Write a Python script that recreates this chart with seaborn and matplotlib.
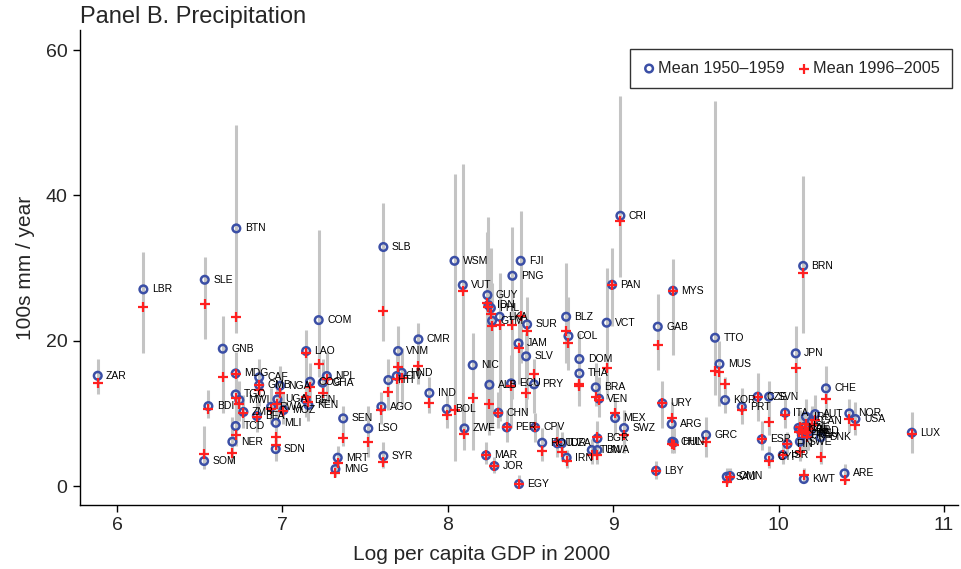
import matplotlib
matplotlib.use("Agg")
import matplotlib.pyplot as plt
import seaborn as sns
import pandas as pd

codes = ["ZAR","LBR","SLE","SOM","BDI","GNB","NER","BTN","MDG","TGO","TCD","MWI","ZMB","CAF","GMB","BFA",
         "RWA","UGA","MOZ","MLI","SDN","NGA","KEN","BEN","COM","LAO","NPL","GHA","COG","SEN","MRT","MNG",
         "LSO","SYR","AGO","SLB","HTI","CIV","HND","VNM","CMR","IND","BOL","WSM","VUT","ZWE","NIC","GUY",
         "IDN","PHL","GTM","LKA","FJI","PNG","SUR","JAM","SLV","ALB","ECU","PRY","CHN","MAR","JOR","EGY",
         "PER","CPV","BLZ","COL","DOM","THA","VCT","ROU","TUR","DZA","IRN","BRA","VEN","BGR","TUN","BWA",
         "MEX","SWZ","PAN","CRI","GAB","MYS","URY","ARG","CHL","HUN","LBY","GRC","TTO","MUS","KOR","PRT",
         "SAU","OMN","CZE","SVN","ESP","CYP","ISR","ITA","FIN","JPN","BRN","KWT","CHE","NOR","USA","ARE",
         "LUX","SWE","DNK","IRL","AUT","CAN","NZL","ISL","NLD","BEL","FRA","GBR","DEU"]
log_gdp = [5.883,6.159,6.530,6.526,6.552,6.639,6.697,6.721,6.717,6.717,6.717,6.739,6.764,6.859,6.859,6.845,
           6.931,6.969,7.006,6.960,6.959,6.985,7.157,7.140,7.219,7.143,7.268,7.243,7.167,7.367,7.334,7.320,
           7.519,7.610,7.598,7.610,7.640,7.691,7.721,7.699,7.822,7.888,7.993,8.040,8.090,8.100,8.150,8.239,
           8.245,8.260,8.267,8.313,8.440,8.390,8.479,8.427,8.473,8.251,8.382,8.521,8.305,8.231,8.281,8.430,
           8.356,8.527,8.715,8.729,8.795,8.795,8.960,8.570,8.662,8.689,8.718,8.894,8.914,8.904,8.870,8.904,
           9.011,9.065,8.993,9.043,9.269,9.361,9.297,9.353,9.357,9.365,9.259,9.561,9.615,9.642,9.676,9.777,
           9.686,9.706,9.873,9.942,9.898,9.942,10.025,10.039,10.053,10.103,10.148,10.152,10.286,10.427,10.464,10.398,
           10.805,10.128,10.254,10.165,10.220,10.200,10.120,10.160,10.190,10.170,10.140,10.130,10.180]
mean_1950s = [15.18,27.07,28.39,3.44,11.00,18.90,6.10,35.46,15.50,12.60,8.26,11.83,10.20,14.96,13.90,9.63,
              10.90,11.93,10.46,8.70,5.09,13.80,11.15,11.90,22.84,18.58,15.14,14.22,14.36,9.31,3.90,2.34,
              7.93,4.13,10.92,32.90,14.59,15.14,15.60,18.58,20.19,12.80,10.60,31.00,27.66,7.93,16.65,26.28,
              24.90,24.50,22.75,23.30,31.00,28.94,22.25,19.63,17.85,13.94,14.13,14.00,10.09,4.22,2.75,0.27,
              8.07,8.07,23.30,20.64,17.48,15.50,22.48,5.96,5.87,5.87,3.90,13.58,12.02,6.56,4.95,4.95,
              9.36,7.98,27.70,37.20,21.93,26.88,11.38,8.53,6.10,6.00,2.11,7.02,20.41,16.79,11.83,10.92,
              1.28,1.38,12.30,12.30,6.42,3.94,4.27,10.09,5.78,18.26,30.30,0.96,13.44,10.00,9.22,1.74,
              7.34,6.10,6.70,9.54,9.90,8.90,8.00,8.20,7.60,7.30,7.00,7.70,7.10]
mean_1990s = [14.22,24.63,25.09,4.40,10.55,15.04,4.58,23.26,15.40,12.10,7.00,11.30,10.10,13.90,13.20,9.50,
              10.60,11.30,10.30,6.80,5.60,12.76,11.50,12.20,16.80,18.26,14.77,12.85,13.60,6.65,3.11,1.74,
              6.10,3.35,10.46,24.10,13.00,14.80,14.90,16.40,16.50,11.47,9.77,10.46,26.88,7.10,12.07,25.20,
              24.70,23.70,22.06,22.20,23.40,22.15,21.38,18.95,12.75,11.28,13.80,15.37,10.09,4.22,2.75,0.27,
              8.07,8.07,21.33,19.63,14.00,13.80,16.28,4.82,6.10,4.72,3.48,12.29,11.90,6.79,4.27,4.27,
              10.09,7.00,27.70,36.50,19.40,26.88,11.38,9.31,5.74,5.70,2.11,6.10,15.87,15.73,14.00,10.46,
              0.60,1.30,12.20,8.85,6.42,3.48,4.27,9.77,5.78,16.28,29.30,1.51,11.97,9.17,8.39,0.78,
              7.16,4.72,4.04,8.50,9.10,8.40,7.40,7.70,7.90,6.80,7.30,8.10,7.50]
range_low = [12.7,18.3,20.2,2.3,9.4,10.0,3.2,21.0,12.5,9.5,5.5,9.0,8.0,12.0,11.0,7.5,
             8.5,9.5,8.5,6.0,3.5,10.5,9.0,9.5,15.0,13.0,11.5,11.0,11.0,5.5,2.0,1.2,
             4.0,2.5,8.5,20.0,10.5,11.0,11.0,14.0,14.0,10.0,8.0,3.5,8.0,5.0,5.0,8.0,
             8.0,10.0,8.0,9.0,17.0,12.0,12.0,14.0,10.0,7.0,8.0,10.0,8.0,3.0,1.8,0.0,
             6.0,6.0,17.0,16.0,12.0,11.0,12.0,3.5,4.0,3.5,2.5,11.0,9.5,4.0,3.0,3.0,
             7.0,4.5,22.0,28.8,16.0,18.0,8.0,6.0,4.5,4.5,1.0,4.0,12.5,11.0,10.0,8.5,
             0.3,0.5,9.0,7.0,5.0,2.5,3.0,8.0,4.5,13.0,21.0,0.5,10.0,7.5,7.0,0.3,
             4.5,3.5,3.0,6.0,7.0,6.0,5.5,5.0,5.5,5.0,5.0,6.0,5.0]
range_high = [17.5,32.2,31.5,8.2,13.2,23.4,9.5,49.7,18.5,16.0,10.5,14.5,12.5,17.5,16.5,11.5,
              13.5,14.5,13.0,10.5,7.5,16.5,14.0,15.0,35.3,21.5,18.5,17.5,17.0,11.0,5.5,3.5,
              11.0,6.0,13.0,39.0,17.5,18.5,19.0,22.0,22.5,15.0,12.5,42.9,44.3,11.0,21.0,34.9,
              37.1,32.8,28.0,29.3,37.8,35.6,26.0,24.0,21.0,17.0,18.0,17.5,13.0,6.0,4.0,1.5,
              10.5,10.0,30.7,26.0,21.0,19.0,30.0,8.0,8.5,7.5,5.0,17.0,15.0,9.0,6.5,6.5,
              12.0,10.5,32.8,53.7,26.5,31.2,14.5,11.5,8.0,8.0,3.5,9.5,53.0,20.0,15.0,13.5,
              2.5,2.5,15.5,14.5,9.0,5.5,6.5,12.5,7.5,22.0,42.7,2.5,16.5,12.0,11.5,3.0,
              10.2,8.0,8.5,12.0,12.5,11.0,10.0,10.5,10.0,9.5,9.5,10.5,9.5]

df = pd.DataFrame({"code": codes, "gdp": log_gdp, "p50": mean_1950s, "p00": mean_1990s,
                   "lo": range_low, "hi": range_high})
long = pd.concat([
    pd.DataFrame({"gdp": df.gdp, "precip": df.p50, "period": "Mean 1950\u20131959"}),
    pd.DataFrame({"gdp": df.gdp, "precip": df.p00, "period": "Mean 1996\u20132005"}),
], ignore_index=True)

sns.set_theme(style="white")
plt.rcParams["font.family"] = ["Liberation Sans", "DejaVu Sans"]

fig = plt.figure(figsize=(9.62, 5.69), dpi=100)
ax = fig.add_axes([0.0832, 0.1125, 0.9128, 0.8345])

ax.vlines(df.gdp, df.lo, df.hi, color="#c4c4c4", linewidth=2.2, zorder=1)

blue = "#3b4fa6"
red = "#ff2020"
sns.scatterplot(data=long[long.period == "Mean 1950\u20131959"], x="gdp", y="precip",
                marker="o", s=30, facecolor="none", edgecolor=blue, linewidth=1.8,
                ax=ax, zorder=3, label="Mean 1950\u20131959")
sns.scatterplot(data=long[long.period == "Mean 1996\u20132005"], x="gdp", y="precip",
                marker="+", s=48, color=red, linewidth=1.6,
                ax=ax, zorder=4, label="Mean 1996\u20132005")

for _, r in df.iterrows():
    ax.annotate(r.code, (r.gdp, r.p50), xytext=(6, 0), textcoords="offset points",
                fontsize=7.5, va="center", ha="left", color="black", zorder=5)

ax.set_xlim(5.776, 11.085)
ax.set_ylim(-2.61, 62.75)
ax.set_xticks([6, 7, 8, 9, 10, 11])
ax.set_yticks([0, 20, 40, 60])
ax.tick_params(axis="both", which="major", labelsize=14, length=5, width=1, color="black",
               direction="out", bottom=True, left=True, pad=4)
for s in ["top", "right"]:
    ax.spines[s].set_visible(False)
for s in ["left", "bottom"]:
    ax.spines[s].set_color("black")
    ax.spines[s].set_linewidth(1)
ax.set_xlabel("Log per capita GDP in 2000", fontsize=15, labelpad=8)
ax.xaxis.set_label_coords(0.457, -0.085)
ax.set_ylabel("100s mm / year", fontsize=15, labelpad=8)
ax.set_title("Panel B. Precipitation", loc="left", fontsize=17, pad=5)

leg = ax.legend(loc="upper right", ncol=2, frameon=True, fontsize=11.7, handletextpad=0.15,
                handlelength=0.8, columnspacing=0.8, borderpad=0.45,
                bbox_to_anchor=(0.9966, 0.968))
leg.get_frame().set_edgecolor("black")
leg.get_frame().set_linewidth(1)
leg.get_frame().set_boxstyle("square")

fig.savefig("out.png", dpi=100)
